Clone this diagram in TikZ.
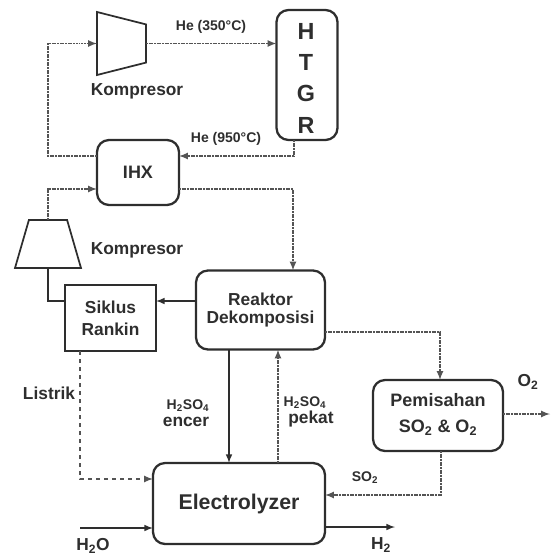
\documentclass[tikz,border=0pt]{standalone}
\usepackage{fontspec}
\setmainfont{Liberation Sans}
\usetikzlibrary{shapes.geometric}
\definecolor{tinta}{gray}{0.18}
\definecolor{pipa}{gray}{0.33}
\tikzset{
    blok/.style 2 args={draw=tinta, line width=1.7pt, inner sep=0pt, outer sep=0pt, align=center,
        minimum width=#1*0.75pt, minimum height=#2*0.75pt, rounded corners=9pt},
    kotak/.style 2 args={blok={#1}{#2}, rounded corners=0pt, line width=2pt},
    kompresi/.style={draw=tinta, line width=1.3pt, inner sep=1pt, outer sep=0pt, trapezium, trapezium stretches},
    teks/.style={text=tinta, inner sep=0pt, font=\fontsize{13}{14}\selectfont\bfseries, align=center},
    kecil/.style={teks, font=\fontsize{10.5}{11}\selectfont\bfseries},
    pipa/.style={->, draw=pipa, line width=1.3pt, dash pattern=on 1.4pt off 0.6pt},
    alir/.style={->, draw=tinta, line width=1.2pt},
    listrik/.style={->, draw=pipa, line width=1.3pt, dash pattern=on 3pt off 3pt}
}
\begin{document}
\begin{tikzpicture}[x=0.75pt, y=-0.75pt, >=latex]

    \useasboundingbox (0, 0) rectangle (550, 556);

    % --- Blok utama ---
    \node[blok={61}{130}] (htgr) at (307, 75) {};
    \node[blok={82}{65}, font=\fontsize{13.5}{15}\selectfont\bfseries, text=tinta] (ihx) at (138, 172.5) {IHX};
    \node[kotak={91}{66}, font=\fontsize{13}{16.5}\selectfont\bfseries, text=tinta] (siklus) at (110.5, 318) {Siklus\\Rankin};
    \node[blok={129}{79}, font=\fontsize{13}{14}\selectfont\bfseries, text=tinta] (reaktor) at (260.5, 310) {Reaktor\\Dekomposisi};
    \node[blok={172}{81}, font=\fontsize{16}{18}\selectfont\bfseries, text=tinta] (elektro) at (239, 503.5) {Electrolyzer};
    \node[blok={130}{71}, font=\fontsize{13.5}{20}\selectfont\bfseries, text=tinta] (pisah) at (438, 415.5) {Pemisahan\\SO\textsubscript{2} \& O\textsubscript{2}\rule[-4pt]{0pt}{0pt}};

    % --- Kompresor ---
    \node[kompresi, shape border rotate=270, trapezium angle=72, minimum width=47.25pt, minimum height=36.75pt] (kompA) at (121.5, 43.5) {};
    \node[kompresi, trapezium angle=70, minimum width=49.5pt, minimum height=36pt] (kompB) at (48, 244) {};

    % --- Titik bantu ---
    \coordinate (sudutA) at (48, 156);
    \coordinate (sudutB) at (48, 189);
    \coordinate (sudutC) at (293, 189);
    \coordinate (sudutD) at (294, 156);
    \coordinate (sudutE) at (48, 301);
    \coordinate (sudutF) at (80, 479);
    \coordinate (sudutG) at (440, 332);
    \coordinate (sudutH) at (441, 495);
    \coordinate (masukAir) at (80, 528);
    \coordinate (keluarHidrogen) at (395, 527);
    \coordinate (keluarOksigen) at (550, 414);
    \coordinate (encerX) at (229, 400);
    \coordinate (pekatX) at (278, 400);
    \coordinate (listrikX) at (80, 400);

    % --- Aliran helium ---
    \draw[pipa] (sudutA -| ihx.west) -- (sudutA) -- (sudutA |- kompA.center) -- (kompA.west);
    \draw[pipa] (kompA.east) -- (kompA.center -| htgr.west);
    \draw[pipa] (sudutD |- htgr.south) -- (sudutD) -- (sudutD -| ihx.east);
    \draw[pipa] (kompB.north) -- (sudutB) -- (sudutB -| ihx.west);
    \draw[pipa] (sudutC -| ihx.east) -- (sudutC) -- (sudutC |- reaktor.north);

    % --- Aliran proses ---
    \draw[alir, -] (kompB.south) -- (sudutE) -- (sudutE -| siklus.west);
    \draw[alir] (sudutE -| reaktor.west) -- (sudutE -| siklus.east);
    \draw[listrik] (listrikX |- siklus.south) -- (sudutF) -- (sudutF -| elektro.west);
    \draw[alir] (encerX |- reaktor.south) -- (encerX |- elektro.north);
    \draw[pipa] (pekatX |- elektro.north) -- (pekatX |- reaktor.south);
    \draw[pipa] (sudutG -| reaktor.east) -- (sudutG) -- (sudutG |- pisah.north);
    \draw[pipa] (sudutH |- pisah.south) -- (sudutH) -- (sudutH -| elektro.east);
    \draw[alir] (masukAir) -- (masukAir -| elektro.west);
    \draw[alir] (keluarHidrogen -| elektro.east) -- (keluarHidrogen);
    \draw[pipa] (keluarOksigen -| pisah.east) -- (keluarOksigen);

    % --- Label ---
    \node[teks, font=\fontsize{17.5}{23.5}\selectfont\bfseries] (lblHtgr) at (306, 78) {H\\T\\G\\R};
    \node[kecil] (lblPanasA) at (211, 27) {He (350°C)};
    \node[kecil] (lblPanasB) at (226, 139) {He (950°C)};
    \node[teks] (lblKompA) at (137, 91) {Kompresor};
    \node[teks] (lblKompB) at (137, 250) {Kompresor};
    \node[teks] (lblListrik) at (49, 393) {Listrik};
    \node[kecil] (lblAsamA) at (188, 406) {H\textsubscript{2}SO\textsubscript{4}};
    \node[teks] (lblEncer) at (186, 422) {encer};
    \node[kecil] (lblAsamB) at (305, 403) {H\textsubscript{2}SO\textsubscript{4}};
    \node[teks] (lblPekat) at (311, 419) {pekat};
    \node[kecil] (lblSulfur) at (365, 478) {SO\textsubscript{2}};
    \node[teks] (lblAir) at (93, 546) {H\textsubscript{2}O};
    \node[teks] (lblHidrogen) at (381, 545) {H\textsubscript{2}};
    \node[teks] (lblOksigen) at (528, 382) {O\textsubscript{2}};

\end{tikzpicture}
\end{document}
